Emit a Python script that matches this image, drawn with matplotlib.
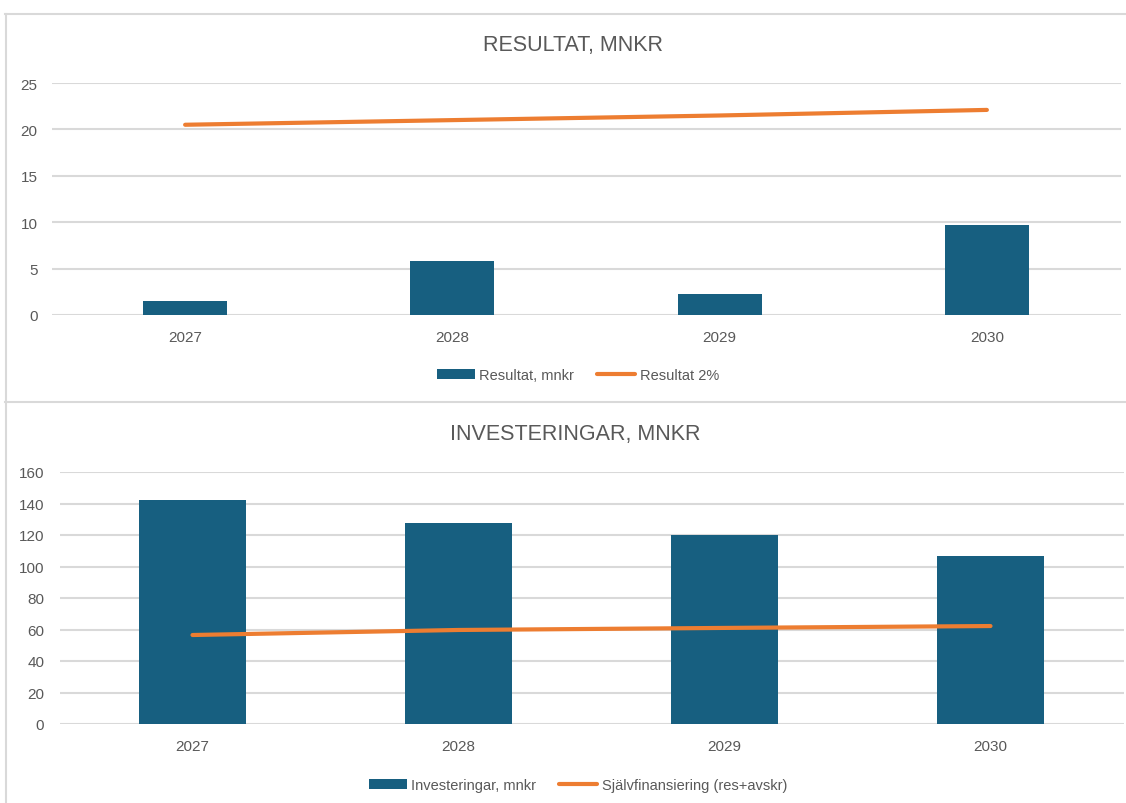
import matplotlib
matplotlib.use("Agg")
import matplotlib.pyplot as plt
from matplotlib.lines import Line2D
import numpy as np

plt.rcParams['font.family'] = ['Liberation Sans', 'DejaVu Sans']

years = ["2027", "2028", "2029", "2030"]
resultat = [1.5, 5.8, 2.25, 9.7]
resultat_2pct = [20.5, 21.0, 21.5, 22.1]
investeringar = [142.0, 127.6, 120.0, 106.7]
sjalvfinansiering = [56.5, 59.7, 61.0, 62.2]

top_ticks = [0, 5, 10, 15, 20, 25]
bot_ticks = [0, 20, 40, 60, 80, 100, 120, 140, 160]

BAR = '#175F80'
ORANGE = '#ED7D31'
GRID = '#D9D9D9'
TXT = '#595959'

W, H = 1126, 804
fig = plt.figure(figsize=(W / 100, H / 100), dpi=100)
fig.patch.set_facecolor('white')

def fx(px):
    return px / W

def fy(py):
    return 1 - py / H

# panel borders
for line in [
    Line2D([fx(5), 1], [fy(14.5), fy(14.5)], color=GRID, lw=1.5),
    Line2D([fx(5), 1], [fy(403), fy(403)], color=GRID, lw=1.5),
    Line2D([fx(5.5), fx(5.5)], [fy(14.5), 0], color=GRID, lw=1.5),
]:
    line.set_transform(fig.transFigure)
    fig.lines.append(line)


def make_axes(x0, x1, ytop, ybot):
    return fig.add_axes([fx(x0), fy(ybot), fx(x1) - fx(x0), fy(ytop) - fy(ybot)])


def style(ax, ticks, ypad):
    x = np.arange(len(years))
    ax.set_xlim(-0.5, len(years) - 0.5)
    ax.set_ylim(ticks[0], ticks[-1])
    ax.set_yticks(ticks)
    ax.set_xticks(x)
    ax.set_xticklabels(years)
    for s in ax.spines.values():
        s.set_visible(False)
    ax.yaxis.grid(True, color=GRID, lw=1.5)
    ax.set_axisbelow(True)
    ax.tick_params(axis='both', length=0, colors=TXT, labelsize=11)
    ax.tick_params(axis='y', pad=ypad)
    ax.tick_params(axis='x', pad=11)


# Top chart
ax1 = make_axes(51.5, 1120.5, 84, 316)
x = np.arange(len(years))
b1 = ax1.bar(x, resultat, width=0.315, color=BAR, zorder=2, label='Resultat, mnkr')
l1, = ax1.plot(x, resultat_2pct, color=ORANGE, lw=3, zorder=3,
               solid_capstyle='round', label='Resultat 2%')
style(ax1, top_ticks, 10)
fig.text(fx(573), fy(45), 'RESULTAT, MNKR', ha='center', va='center',
         fontsize=15.5, color=TXT)
fig.legend(handles=[b1, l1], loc='center', bbox_to_anchor=(fx(578), fy(376)),
           ncol=2, frameon=False, fontsize=10.5, handlelength=2.6,
           handletextpad=0.3, columnspacing=1.6, labelcolor=TXT)

# Bottom chart
ax2 = make_axes(59.5, 1123.5, 473, 725)
b2 = ax2.bar(x, investeringar, width=0.40, color=BAR, zorder=2,
             label='Investeringar, mnkr')
l2, = ax2.plot(x, sjalvfinansiering, color=ORANGE, lw=3, zorder=3,
               solid_capstyle='round', label='Självfinansiering (res+avskr)')
style(ax2, bot_ticks, 11)
fig.text(fx(575), fy(435), 'INVESTERINGAR, MNKR', ha='center', va='center',
         fontsize=15.5, color=TXT)
fig.legend(handles=[b2, l2], loc='center', bbox_to_anchor=(fx(578), fy(786)),
           ncol=2, frameon=False, fontsize=10.5, handlelength=2.6,
           handletextpad=0.3, columnspacing=1.6, labelcolor=TXT)

fig.savefig('out.png', dpi=100, facecolor='white')
